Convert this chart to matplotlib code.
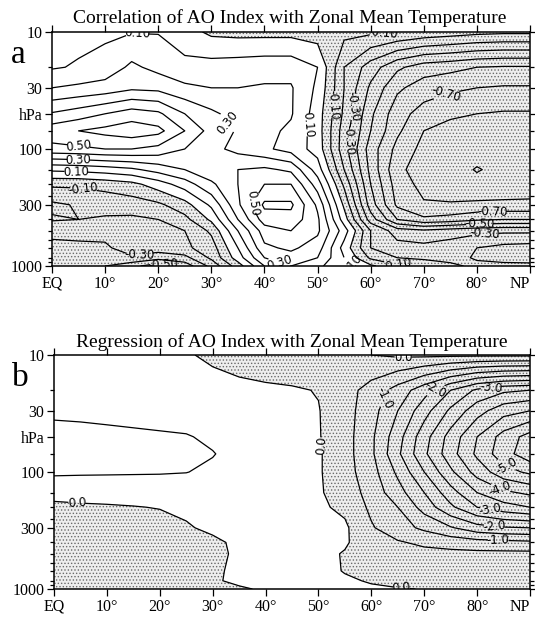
import numpy as np
import matplotlib.pyplot as plt
from matplotlib.ticker import FixedLocator, NullFormatter

plt.rcParams['font.family'] = ['Liberation Serif', 'DejaVu Serif']
plt.rcParams['hatch.color'] = '#6a6a6a'
plt.rcParams['hatch.linewidth'] = 0.6

# grid: latitude (deg N) x pressure (hPa)
lats = np.arange(0, 91, 5)
plevs = [10, 20, 30, 50, 70, 100, 150, 200, 300, 400, 500, 700, 850, 1000]

# a: correlation, one row per pressure level
corr = np.array([
    [0.05, 0.07, 0.08, 0.095, 0.095, 0.04, -0.02, -0.03, -0.03, -0.03, -0.05, -0.07, -0.08, -0.10, -0.13, -0.15, -0.17, -0.18, -0.18],
    [0.09, 0.11, 0.14, 0.22, 0.17, 0.13, 0.14, 0.15, 0.16, 0.16, 0.10, -0.20, -0.35, -0.48, -0.55, -0.57, -0.60, -0.61, -0.61],
    [0.20, 0.22, 0.24, 0.28, 0.27, 0.22, 0.20, 0.20, 0.21, 0.21, 0.08, -0.20, -0.42, -0.58, -0.65, -0.68, -0.70, -0.71, -0.71],
    [0.41, 0.45, 0.50, 0.55, 0.52, 0.40, 0.32, 0.26, 0.23, 0.21, 0.05, -0.22, -0.48, -0.66, -0.74, -0.78, -0.80, -0.81, -0.81],
    [0.56, 0.60, 0.63, 0.66, 0.63, 0.50, 0.36, 0.29, 0.23, 0.18, 0.05, -0.25, -0.50, -0.68, -0.80, -0.84, -0.85, -0.86, -0.86],
    [0.47, 0.48, 0.50, 0.50, 0.47, 0.40, 0.33, 0.27, 0.22, 0.16, 0.06, -0.26, -0.55, -0.73, -0.83, -0.85, -0.87, -0.87, -0.87],
    [0.12, 0.13, 0.15, 0.18, 0.24, 0.30, 0.37, 0.40, 0.42, 0.38, 0.15, -0.20, -0.53, -0.78, -0.84, -0.87, -0.905, -0.88, -0.86],
    [-0.08, -0.08, -0.06, -0.03, 0.05, 0.15, 0.28, 0.40, 0.50, 0.50, 0.25, -0.12, -0.50, -0.75, -0.83, -0.86, -0.88, -0.86, -0.85],
    [-0.22, -0.19, -0.17, -0.15, -0.12, -0.04, 0.12, 0.38, 0.62, 0.62, 0.38, -0.02, -0.45, -0.72, -0.79, -0.79, -0.78, -0.78, -0.78],
    [-0.19, -0.20, -0.21, -0.22, -0.20, -0.13, 0.02, 0.30, 0.55, 0.56, 0.42, 0.05, -0.35, -0.60, -0.68, -0.66, -0.62, -0.60, -0.60],
    [-0.27, -0.27, -0.28, -0.28, -0.26, -0.20, -0.08, 0.20, 0.45, 0.50, 0.42, 0.15, -0.20, -0.35, -0.38, -0.35, -0.33, -0.32, -0.32],
    [-0.33, -0.32, -0.31, -0.27, -0.25, -0.22, -0.15, 0.10, 0.38, 0.42, 0.35, 0.06, -0.20, -0.26, -0.27, -0.25, -0.20, -0.17, -0.16],
    [-0.38, -0.33, -0.32, -0.31, -0.36, -0.33, -0.18, 0.05, 0.30, 0.36, 0.30, 0.10, -0.12, -0.20, -0.22, -0.23, -0.19, -0.16, -0.15],
    [-0.32, -0.35, -0.40, -0.47, -0.56, -0.46, -0.27, -0.05, 0.20, 0.30, 0.22, 0.13, 0.02, -0.08, -0.13, -0.18, -0.22, -0.23, -0.23],
])

# b: regression (K per std of AO index)
regr = np.array([
    [0.20, 0.20, 0.20, 0.20, 0.15, 0.05, -0.10, -0.25, -0.35, -0.35, -0.30, -0.20, 0.00, 0.08, 0.10, 0.10, 0.10, 0.10, 0.10],
    [0.30, 0.30, 0.30, 0.30, 0.28, 0.25, 0.20, 0.15, 0.10, 0.05, -0.02, -0.30, -0.70, -1.20, -1.80, -2.50, -3.10, -3.40, -3.50],
    [0.40, 0.38, 0.36, 0.33, 0.30, 0.27, 0.22, 0.18, 0.12, 0.08, 0.02, -0.30, -0.80, -1.50, -2.30, -3.10, -3.80, -4.30, -4.50],
    [0.68, 0.66, 0.62, 0.59, 0.56, 0.53, 0.42, 0.30, 0.20, 0.12, 0.03, -0.30, -0.90, -1.80, -2.80, -3.70, -4.50, -5.20, -5.70],
    [0.75, 0.73, 0.70, 0.66, 0.62, 0.58, 0.52, 0.35, 0.22, 0.12, 0.05, -0.30, -0.90, -1.90, -2.90, -3.80, -4.60, -5.30, -5.80],
    [0.58, 0.56, 0.55, 0.54, 0.53, 0.51, 0.42, 0.30, 0.22, 0.15, 0.05, -0.30, -0.80, -1.60, -2.50, -3.40, -4.20, -4.80, -5.10],
    [0.15, 0.18, 0.20, 0.22, 0.25, 0.26, 0.25, 0.22, 0.20, 0.15, 0.05, -0.20, -0.70, -1.30, -2.00, -2.80, -3.50, -3.90, -4.10],
    [-0.10, -0.07, -0.05, -0.02, 0.02, 0.10, 0.15, 0.18, 0.20, 0.15, 0.08, -0.10, -0.60, -1.00, -1.70, -2.40, -3.00, -3.30, -3.50],
    [-0.25, -0.25, -0.24, -0.22, -0.18, -0.05, 0.10, 0.15, 0.18, 0.15, 0.10, 0.08, -0.45, -0.80, -1.10, -1.45, -1.80, -1.95, -2.00],
    [-0.25, -0.25, -0.25, -0.25, -0.22, -0.15, -0.10, 0.10, 0.15, 0.15, 0.12, 0.05, -0.25, -0.45, -0.60, -0.70, -0.80, -0.85, -0.90],
    [-0.25, -0.25, -0.25, -0.25, -0.23, -0.20, -0.12, 0.08, 0.15, 0.15, 0.12, -0.03, -0.20, -0.30, -0.35, -0.37, -0.38, -0.38, -0.38],
    [-0.22, -0.22, -0.22, -0.22, -0.20, -0.17, -0.08, 0.10, 0.15, 0.15, 0.12, -0.02, -0.10, -0.20, -0.25, -0.27, -0.28, -0.28, -0.28],
    [-0.20, -0.20, -0.20, -0.20, -0.20, -0.16, -0.05, 0.08, 0.12, 0.12, 0.10, 0.05, -0.03, -0.10, -0.18, -0.22, -0.25, -0.25, -0.25],
    [-0.20, -0.20, -0.20, -0.20, -0.20, -0.18, -0.12, -0.05, 0.05, 0.10, 0.10, 0.08, 0.05, 0.02, -0.01, -0.10, -0.15, -0.15, -0.15],
])

corr_levels = np.round(np.arange(-0.9, 0.75, 0.1), 2)
corr_labeled = [-0.7, -0.5, -0.3, -0.1, 0.1, 0.3, 0.5]
regr_levels = np.round(np.arange(-5.5, 1.0, 0.5), 2)
regr_labeled = [-5.0, -4.0, -3.0, -2.0, -1.0, 0.0]

# where the contour labels sit: (lat, hPa)
corr_label_spots = [(16, 10.5), (32.5, 63), (5, 93), (5, 120), (4.5, 159), (6, 206),
                    (16.5, 830), (21, 960), (38, 294), (43, 870), (49, 63), (54, 42),
                    (55.3, 84), (58.7, 45), (62.5, 12.4), (74.5, 37), (83, 350),
                    (80.5, 410), (81.5, 480), (57, 960), (65, 970)]
regr_label_spots = [(4.3, 186), (51.9, 59), (66, 10.6), (65.7, 975), (63.4, 24),
                    (71.9, 19), (82.6, 18.5), (85.5, 88), (83.8, 159), (82.3, 236),
                    (83.2, 299), (84, 365)]

xtick_lats = list(range(0, 91, 10))
xtick_labels = ['EQ'] + [f'{v}°' for v in range(10, 90, 10)] + ['NP']
ytick_hpa = [10, 30, 50, 100, 300, 1000]
ytick_labels = ['10', '30', 'hPa', '100', '300', '1000']
minor_hpa = [20, 70, 150, 200, 250, 400, 500, 600, 700, 850, 925]

W, H = 535, 617
fig = plt.figure(figsize=(W / 100, H / 100), dpi=100)


def px_axes(left, top, right, bottom):
    return fig.add_axes([left / W, 1 - bottom / H, (right - left) / W, (bottom - top) / H])


def panel(ax, data, levels, labeled, fmt, spots):
    logp = np.log10(plevs)
    ax.contourf(lats, logp, data, levels=[-100, 0], colors=['#eeeeee'], hatches=['.....'])
    is_lab = np.array([np.any(np.isclose(lv, labeled)) for lv in levels])
    ax.contour(lats, logp, data, levels=levels[~is_lab], colors='k', linewidths=0.9,
               linestyles='solid')
    cs = ax.contour(lats, logp, data, levels=levels[is_lab], colors='k', linewidths=0.9,
                    linestyles='solid')
    manual = [(la, np.log10(p)) for la, p in spots]
    texts = ax.clabel(cs, fmt=fmt, fontsize=8.5, inline=True, inline_spacing=1,
                      manual=manual)
    for t in texts:
        t.set_fontfamily('DejaVu Sans')

    ax.set_xlim(0, 90)
    ax.set_ylim(3, 1)
    ax.set_xticks(xtick_lats)
    ax.set_xticklabels(xtick_labels, fontsize=11.5)
    ax.get_xticklabels()[-1].set_horizontalalignment('right')
    ax.set_yticks(np.log10(ytick_hpa))
    ax.set_yticklabels(ytick_labels, fontsize=11.5)
    ax.yaxis.set_minor_locator(FixedLocator(np.log10(minor_hpa)))
    ax.yaxis.set_minor_formatter(NullFormatter())
    ax.tick_params(which='both', direction='out', top=True, right=True, width=0.9)
    ax.tick_params(which='major', length=5, pad=2)
    ax.tick_params(which='minor', length=3)
    for s in ax.spines.values():
        s.set_linewidth(1.1)


ax_a = px_axes(52, 32, 530, 266)
panel(ax_a, corr, corr_levels, corr_labeled, lambda v: f'{v:.2f}', corr_label_spots)
fig.text(290 / W, 1 - 18 / H, 'Correlation of AO Index with Zonal Mean Temperature',
         ha='center', va='center', fontsize=14)
fig.text(18 / W, 1 - 55 / H, 'a', ha='center', va='center', fontsize=24)

ax_b = px_axes(54, 355, 530, 589)
panel(ax_b, regr, regr_levels, regr_labeled, lambda v: f'{v:.1f}', regr_label_spots)
fig.text(292 / W, 1 - 342 / H, 'Regression of AO Index with Zonal Mean Temperature',
         ha='center', va='center', fontsize=14)
fig.text(20 / W, 1 - 378 / H, 'b', ha='center', va='center', fontsize=24)

fig.savefig('out.png', dpi=100)
